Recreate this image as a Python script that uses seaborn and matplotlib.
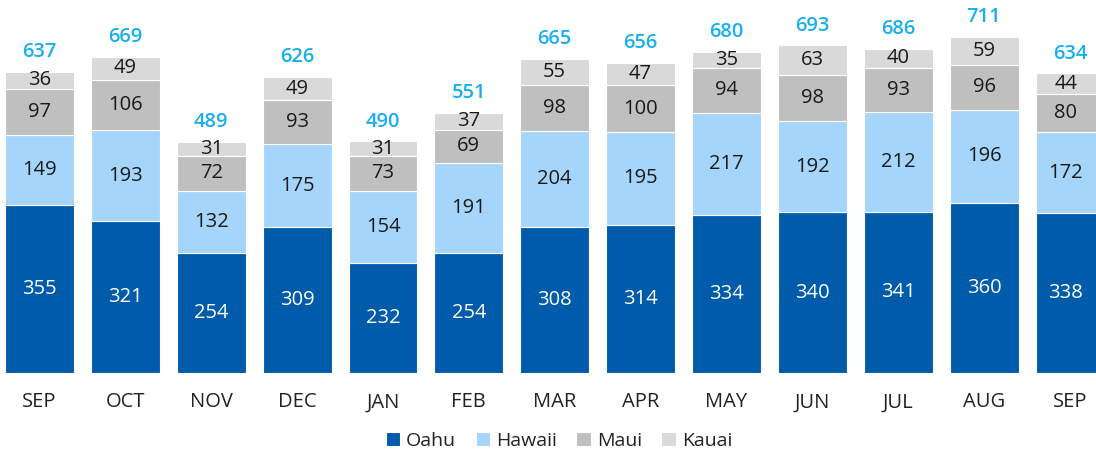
import matplotlib
matplotlib.use("Agg")
import matplotlib.pyplot as plt
import seaborn as sns
import numpy as np
import pandas as pd

months = ["SEP", "OCT", "NOV", "DEC", "JAN", "FEB", "MAR", "APR", "MAY", "JUN", "JUL", "AUG", "SEP"]
oahu = [355, 321, 254, 309, 232, 254, 308, 314, 334, 340, 341, 360, 338]
hawaii = [149, 193, 132, 175, 154, 191, 204, 195, 217, 192, 212, 196, 172]
maui = [97, 106, 72, 93, 73, 69, 98, 100, 94, 98, 93, 96, 80]
kauai = [36, 49, 31, 49, 31, 37, 55, 47, 35, 63, 40, 59, 44]
totals = [637, 669, 489, 626, 490, 551, 665, 656, 680, 693, 686, 711, 634]

series = [("Oahu", oahu, "#005BAA", "white"),
          ("Hawaii", hawaii, "#A6D5FB", "#1a1a1a"),
          ("Maui", maui, "#BFBFBF", "#1a1a1a"),
          ("Kauai", kauai, "#D9D9D9", "#1a1a1a")]

sns.set_theme(style="white")
plt.rcParams["font.family"] = ["Open Sans", "DejaVu Sans"]

fig = plt.figure(figsize=(10.96, 4.57), dpi=100)
ax = fig.add_axes([0, 84 / 457, 1, 373 / 457])

idx = list(range(len(months)))
bottom = np.zeros(len(months))
for name, vals, color, tcol in series:
    df = pd.DataFrame({"i": idx, "v": vals})
    sns.barplot(data=df, x="i", y="v", color=color, bottom=bottom.copy(), width=0.803,
                edgecolor="white", linewidth=0.8, ax=ax, label=name, saturation=1)
    cont = ax.containers[-1]
    ax.bar_label(cont, labels=[str(v) for v in vals], label_type="center",
                 color=tcol, fontsize=14.5)
    bottom += np.array(vals)

ax.bar_label(ax.containers[-1], labels=[str(t) for t in totals], padding=7,
             color="#19AFEF", fontsize=14.5, fontweight="semibold")

ax.set_xlim(-0.46, 12.303)
ax.set_ylim(0, 789)
ax.set_xticks(idx)
ax.set_xticklabels(months, fontsize=14.5, color="#222222")
ax.tick_params(axis="x", length=0, pad=14)
ax.set_yticks([])
ax.set_xlabel("")
ax.set_ylabel("")
for s in ax.spines.values():
    s.set_visible(False)

handles, labels = ax.get_legend_handles_labels()
if ax.get_legend() is not None:
    ax.get_legend().remove()
fig.legend(handles, labels, loc="center", bbox_to_anchor=(559 / 1096, 1 - 441 / 457),
           ncol=4, frameon=False, fontsize=14, handlelength=0.75, handleheight=0.75,
           handletextpad=0.3, columnspacing=1.0, labelcolor="#222222")

fig.savefig("out.png", dpi=100)
